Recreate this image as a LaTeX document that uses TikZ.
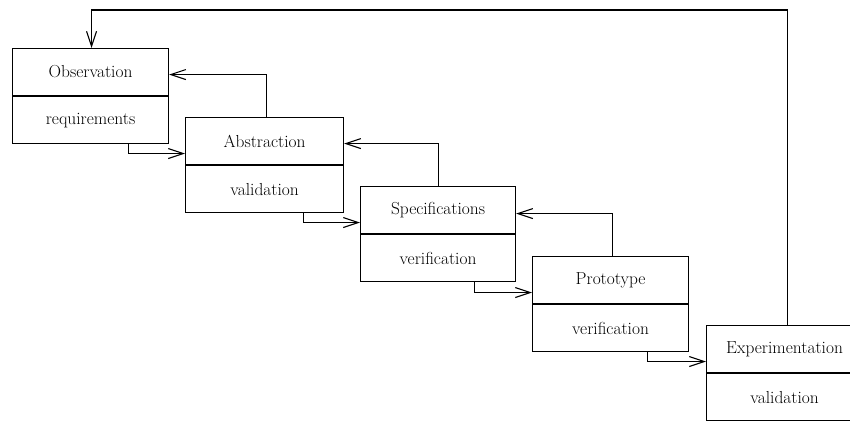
\documentclass[tikz,border=0pt]{standalone}
\usetikzlibrary{arrows.meta,calc}
\begin{document}
\begin{tikzpicture}[x=1pt,y=-1pt,
  part/.style={draw, line width=1.1pt, minimum width=156pt, minimum height=47pt,
    inner sep=0pt, font=\fontsize{17.4}{20}\selectfont},
  conn/.style={line width=1.1pt, -{Straight Barb[length=15pt,width=10pt,line width=1.1pt]}}]
\useasboundingbox (0,0) rectangle (850,421);

% stages: name on top, check below
\node[part, anchor=north west] (obsT) at (12,48) {Observation};
\node[part, anchor=north] (obsB) at (obsT.south) {requirements};

\node[part, minimum width=158pt, anchor=north west] (absT) at (185,117) {Abstraction};
\node[part, minimum width=158pt, anchor=north] (absB) at (absT.south) {validation};

\node[part, minimum width=155pt, anchor=north west] (specT) at (360,186) {Specifications};
\node[part, minimum width=155pt, anchor=north] (specB) at (specT.south) {verification};

\node[part, anchor=north west] (protoT) at (532,256) {Prototype};
\node[part, anchor=north] (protoB) at (protoT.south) {verification};

\node[part, anchor=north west] (expT) at (706,325) {Experimentation};
\node[part, anchor=north] (expB) at (expT.south) {validation};

% forward steps
\draw[conn] ([xshift=38pt]obsB.south) |- ([yshift=-12.5pt]absT.west);
\draw[conn] ([xshift=39pt]absB.south) |- ([yshift=-12.5pt]specT.west);
\draw[conn] ([xshift=36.5pt]specB.south) |- ([yshift=-12.5pt]protoT.west);
\draw[conn] ([xshift=37pt]protoB.south) |- ([yshift=-12.5pt]expT.west);

% feedback steps
\draw[conn] ([xshift=2pt]absT.north) |- ([yshift=-2.5pt]obsT.east);
\draw[conn] ([xshift=0.5pt]specT.north) |- ([yshift=-2.5pt]absT.east);
\draw[conn] ([xshift=2pt]protoT.north) |- ([yshift=-3.5pt]specT.east);

% loop back from experimentation to observation
\coordinate (loop) at (0,10);
\draw[conn] ([xshift=3pt]expT.north) -- ([xshift=3pt]expT.north |- loop)
  -| ([xshift=1pt]obsT.north);
\end{tikzpicture}
\end{document}
